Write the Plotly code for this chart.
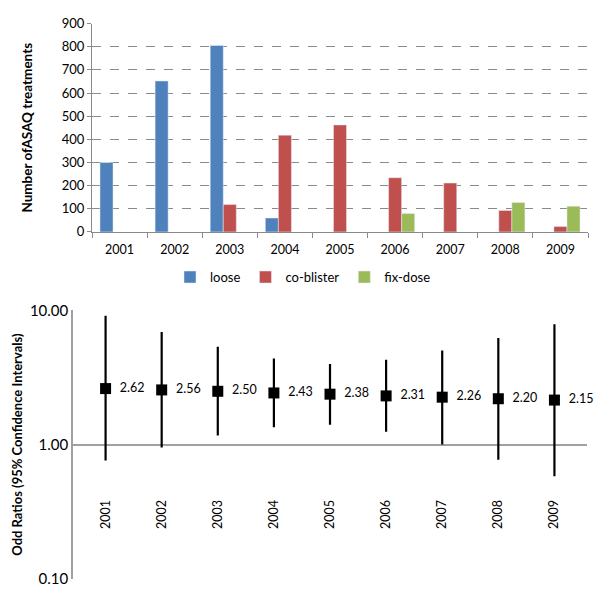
import plotly.graph_objects as go

years = ["2001", "2002", "2003", "2004", "2005", "2006", "2007", "2008", "2009"]
loose = [300, 652, 805, 60, None, None, None, None, None]
co_blister = [None, None, 118, 418, 462, 234, 211, 93, 23]
fix_dose = [None, None, None, None, None, 79, None, 127, 111]

odds = [2.62, 2.56, 2.50, 2.43, 2.38, 2.31, 2.26, 2.20, 2.15]
ci_upper = [9.15, 6.93, 5.37, 4.39, 3.99, 4.30, 5.05, 6.24, 7.92]
ci_lower = [0.76, 0.95, 1.17, 1.35, 1.41, 1.25, 1.00, 0.77, 0.58]

FONT = "Lato"
W, H = 600, 592

def px(y):
    return 1 - y / H

fig = go.Figure()
fig.add_trace(go.Bar(x=years, y=loose, name="loose", marker_color="#4F81BD",
                     xaxis="x", yaxis="y"))
fig.add_trace(go.Bar(x=years, y=co_blister, name="co-blister", marker_color="#C0504D",
                     xaxis="x", yaxis="y"))
fig.add_trace(go.Bar(x=years, y=fix_dose, name="fix-dose", marker_color="#9BBB59",
                     xaxis="x", yaxis="y"))

fig.add_trace(go.Scatter(
    x=years, y=odds, mode="markers+text",
    text=[f"  {v:.2f}" for v in odds], textposition="middle right",
    textfont=dict(family=FONT, size=12.5, color="#000"),
    marker=dict(symbol="square", size=11, color="#000"),
    error_y=dict(type="data", symmetric=False,
                 array=[u - o for u, o in zip(ci_upper, odds)],
                 arrayminus=[o - l for o, l in zip(odds, ci_lower)],
                 width=0, thickness=2.2, color="#000"),
    showlegend=False, xaxis="x2", yaxis="y2", cliponaxis=False))

grid = "#8a8a8a"
grid2 = "#a0a0a0"
fig.update_layout(
    width=W, height=H, margin=dict(l=0, r=0, t=0, b=0),
    paper_bgcolor="white", plot_bgcolor="white",
    font=dict(family=FONT, size=12, color="#000"),
    barmode="group", bargap=0.29, bargroupgap=0,
    legend=dict(orientation="h", x=0.505, xanchor="center", y=px(276), yanchor="middle",
                font=dict(family=FONT, size=13), itemwidth=30, tracegroupgap=0),
    xaxis=dict(domain=[92 / W, 588 / W], anchor="y", type="category",
               showline=True, linecolor=grid, ticks="outside", tickson="boundaries",
               ticklen=5, tickcolor=grid, tickfont=dict(size=12.5), ticklabelstandoff=6),
    yaxis=dict(domain=[px(229.5), px(15)], range=[0, 900], dtick=100,
               showgrid=True, gridcolor=grid, griddash="dash", gridwidth=1,
               showline=True, linecolor=grid, ticks="outside", ticklen=4, tickcolor=grid,
               tickfont=dict(size=13), zeroline=False,
               title=dict(text="<b>Number ofASAQ treatments</b>", font=dict(size=13.5), standoff=26)),
    xaxis2=dict(domain=[73 / W, 587 / W], anchor="free", position=px(502), type="category",
                showline=False, showgrid=False, ticks="", tickangle=-90, tickfont=dict(size=12.5)),
    yaxis2=dict(domain=[px(587), px(310)], type="log", range=[-1.004, 1.004],
                tickvals=[0.1, 1, 10], ticktext=["0.10", "1.00", "10.00"],
                showgrid=True, gridcolor=grid2, gridwidth=1.5,
                showline=True, linecolor=grid2, linewidth=1.5, ticks="", zeroline=False,
                tickfont=dict(size=15), anchor="x2",
                title=dict(text="<b>Odd Ratios (95% Confidence Intervals)</b>", font=dict(size=13), standoff=4)),
)
fig.write_html("out.html", config={"displayModeBar": False},
               post_script="document.body.style.margin='0';")
